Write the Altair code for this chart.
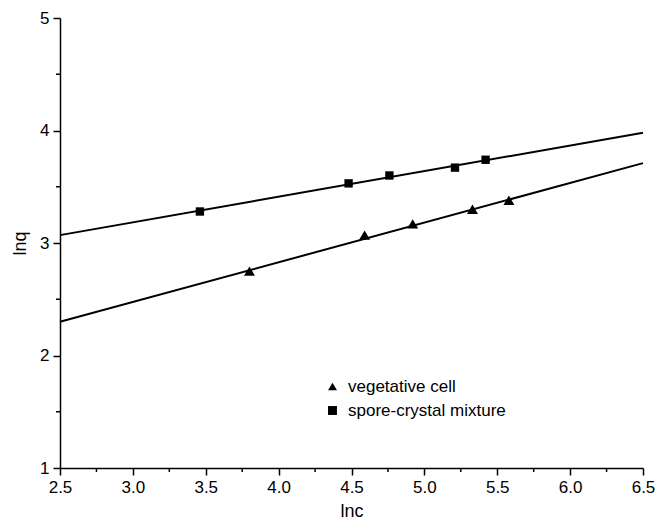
import altair as alt
import pandas as pd

series = ["vegetative cell", "spore-crystal mixture"]
shapes = ["triangle-up", "square"]

veg_x = [3.80, 4.59, 4.92, 5.33, 5.58]
veg_y = [2.75, 3.07, 3.17, 3.30, 3.38]
spore_x = [3.46, 4.48, 4.76, 5.21, 5.42]
spore_y = [3.28, 3.53, 3.60, 3.67, 3.74]

fit_x = [2.5, 6.5]
veg_fit_y = [2.30, 3.71]
spore_fit_y = [3.07, 3.98]

x_major = [2.5, 3.0, 3.5, 4.0, 4.5, 5.0, 5.5, 6.0, 6.5]
x_minor = [2.75, 3.25, 3.75, 4.25, 4.75, 5.25, 5.75, 6.25]
y_major = [1, 2, 3, 4, 5]
y_minor = [1.5, 2.5, 3.5, 4.5]

pts = pd.DataFrame({
    "x": veg_x + spore_x,
    "y": veg_y + spore_y,
    "series": [series[0]] * len(veg_x) + [series[1]] * len(spore_x),
})
lines = pd.DataFrame({
    "x": fit_x + fit_x,
    "y": veg_fit_y + spore_fit_y,
    "series": [series[0]] * 2 + [series[1]] * 2,
})
xminor_df = pd.DataFrame({"x": x_minor})
yminor_df = pd.DataFrame({"y": y_minor})

FONT = "Liberation Sans"
H = 450

xscale = alt.Scale(domain=[2.5, 6.5], nice=False, zero=False)
yscale = alt.Scale(domain=[1, 5], nice=False, zero=False)

common = dict(
    grid=False, domainColor="black", tickColor="black", tickSize=7,
    domainWidth=1.5, tickWidth=1.5, labelColor="black", labelFont=FONT,
    labelFontSize=17, labelPadding=4, labelFlush=False, labelOverlap=False,
    titleFont=FONT, titleFontSize=18, titleFontWeight="normal", titleColor="black",
)
xaxis = alt.Axis(values=x_major, format=".1f", title="lnc", titlePadding=7, **common)
yaxis = alt.Axis(values=y_major, format="d", title="lnq", titlePadding=10, **common)

line_layer = alt.Chart(lines).mark_line(color="black", strokeWidth=2).encode(
    x=alt.X("x:Q", scale=xscale, axis=xaxis),
    y=alt.Y("y:Q", scale=yscale, axis=yaxis),
    detail="series:N",
)

pt_layer = alt.Chart(pts).mark_point(filled=True, color="black", opacity=1).encode(
    x=alt.X("x:Q", scale=xscale, axis=xaxis),
    y=alt.Y("y:Q", scale=yscale, axis=yaxis),
    shape=alt.Shape(
        "series:N",
        scale=alt.Scale(domain=series, range=shapes),
        sort=series,
        legend=alt.Legend(
            orient="none", legendX=264, legendY=360, title=None,
            labelFont=FONT, labelFontSize=17, labelColor="black",
            symbolFillColor="black", symbolStrokeColor="black",
            symbolSize=80, rowPadding=6, labelOffset=7, padding=0,
        ),
    ),
    size=alt.condition(alt.datum.series == series[0], alt.value(120), alt.value(70)),
)

xminor_layer = alt.Chart(xminor_df).mark_rule(color="black", strokeWidth=1.5).encode(
    x=alt.X("x:Q", scale=xscale, axis=xaxis),
    y=alt.value(H),
    y2=alt.value(H + 4),
)
yminor_layer = alt.Chart(yminor_df).mark_rule(color="black", strokeWidth=1.5).encode(
    y=alt.Y("y:Q", scale=yscale, axis=yaxis),
    x=alt.value(-4),
    x2=alt.value(0),
)

chart = (
    alt.layer(line_layer, pt_layer, xminor_layer, yminor_layer)
    .properties(
        width=583, height=H,
        autosize=alt.AutoSizeParams(type="none"),
        padding={"left": 52, "top": 10, "right": 13, "bottom": 54},
        background="white",
    )
    .configure_view(stroke=None)
)

chart.save("out.html", embed_options={"renderer": "svg", "actions": False})
